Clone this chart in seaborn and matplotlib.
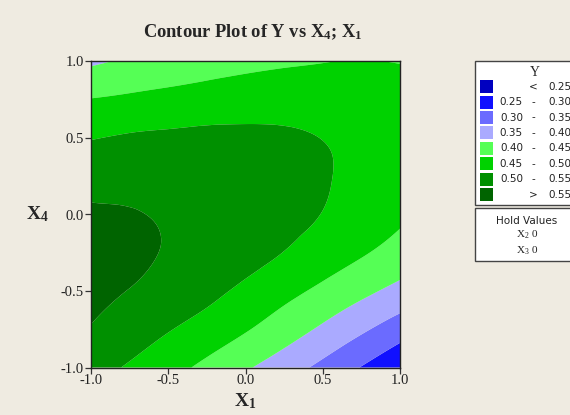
import numpy as np
import matplotlib
matplotlib.use("Agg")
import matplotlib.pyplot as plt
import matplotlib.tri as mtri
import seaborn as sns
from matplotlib.patches import Rectangle

# grid of the two plotted factors
x1_levels = [-1.0, -0.75, -0.5, -0.25, 0.0, 0.25, 0.5, 0.75, 1.0]
x4_levels = [-1.0, -0.75, -0.5, -0.25, 0.0, 0.25, 0.5, 0.75, 1.0]

# fitted Y, one list per X4 level (X1 from -1 to 1)
y_x4_m100 = [0.521, 0.494, 0.467, 0.438, 0.406, 0.373, 0.337, 0.298, 0.259]
y_x4_m075 = [0.548, 0.527, 0.503, 0.480, 0.454, 0.424, 0.392, 0.358, 0.323]
y_x4_m050 = [0.556, 0.549, 0.533, 0.513, 0.490, 0.465, 0.439, 0.412, 0.385]
y_x4_m025 = [0.559, 0.557, 0.547, 0.533, 0.517, 0.499, 0.478, 0.455, 0.430]
y_x4_000 = [0.556, 0.553, 0.546, 0.539, 0.527, 0.513, 0.499, 0.481, 0.458]
y_x4_p025 = [0.531, 0.533, 0.535, 0.533, 0.528, 0.520, 0.504, 0.489, 0.468]
y_x4_p050 = [0.498, 0.505, 0.509, 0.512, 0.512, 0.509, 0.499, 0.486, 0.470]
y_x4_p075 = [0.452, 0.459, 0.4655, 0.4715, 0.4755, 0.477, 0.4745, 0.469, 0.463]
y_x4_p100 = [0.392, 0.407, 0.419, 0.430, 0.439, 0.445, 0.449, 0.451, 0.449]

# contour bands and legend text
breaks = [0.25, 0.30, 0.35, 0.40, 0.45, 0.50, 0.55]
band_colors = ["#0000C0", "#1010FF", "#6B6BFF", "#AAAAFF",
               "#55FF55", "#00D200", "#009000", "#006400"]
band_left = ["", "0.25", "0.30", "0.35", "0.40", "0.45", "0.50", ""]
band_mid = ["<", "-", "-", "-", "-", "-", "-", ">"]
band_right = ["0.25", "0.30", "0.35", "0.40", "0.45", "0.50", "0.55", "0.55"]
hold_values = [("2", "0"), ("3", "0")]

bg = "#EFEBE1"
sns.set_style("white", {"axes.facecolor": bg, "figure.facecolor": bg,
                        "axes.edgecolor": "black"})
plt.rcParams["font.family"] = ["Liberation Serif", "DejaVu Serif"]
plt.rcParams["mathtext.fontset"] = "custom"
plt.rcParams["mathtext.rm"] = "Liberation Serif"
plt.rcParams["mathtext.bf"] = "Liberation Serif:bold"
plt.rcParams["mathtext.it"] = "Liberation Serif:italic"

Z = np.array([y_x4_m100, y_x4_m075, y_x4_m050, y_x4_m025, y_x4_000,
              y_x4_p025, y_x4_p050, y_x4_p075, y_x4_p100])
X, Y = np.meshgrid(x1_levels, x4_levels)

# smooth the bands with matplotlib's cubic triangulation refiner
tri = mtri.Triangulation(X.ravel(), Y.ravel())
refiner = mtri.UniformTriRefiner(tri)
interp = mtri.CubicTriInterpolator(tri, Z.ravel(), kind="min_E")
tri_fine, z_fine = refiner.refine_field(Z.ravel(), triinterpolator=interp,
                                        subdiv=4)

fig = plt.figure(figsize=(5.7, 4.15), dpi=100)
ax = fig.add_axes([91 / 570, 47.5 / 415, 309 / 570, 306 / 415])
levels = [0.0] + breaks + [1.0]
ax.tricontourf(tri_fine, z_fine, levels=levels, colors=band_colors,
               antialiased=True)
ax.set_xlim(-1, 1)
ax.set_ylim(-1, 1)
ticks = [-1.0, -0.5, 0.0, 0.5, 1.0]
ax.set_xticks(ticks)
ax.set_yticks(ticks)
ax.set_xticklabels([f"{t:.1f}" for t in ticks])
ax.set_yticklabels([f"{t:.1f}" for t in ticks])
ax.tick_params(direction="out", length=4, width=0.9, labelsize=10.5,
               color="#333333", labelcolor="#222222", pad=1,
               bottom=True, left=True)
for s in ax.spines.values():
    s.set_linewidth(1.0)
    s.set_color("#222222")

ax.set_xlabel(r"$\mathbf{X}_\mathbf{1}$", fontsize=14, labelpad=3)
ax.set_ylabel(r"$\mathbf{X}_\mathbf{4}$", fontsize=14, rotation=0,
              va="center", ha="center")
ax.yaxis.set_label_coords(-0.172, 0.5)
fig.text(253 / 570, 1 - 32 / 415,
         r"Contour Plot of Y vs X$_\mathbf{4}$; X$_\mathbf{1}$",
         ha="center", va="center", fontsize=13.3, fontweight="bold")

# legend boxes (the right side runs off the picture)
def fx(px):
    return px / 570

def fy(py):
    return 1 - py / 415

fig.patches.append(Rectangle((fx(475), fy(205)), fx(120), (205 - 61.5) / 415,
                             transform=fig.transFigure, facecolor="white",
                             edgecolor="#444444", linewidth=1.0))
fig.patches.append(Rectangle((fx(475), fy(261)), fx(120), (261 - 208) / 415,
                             transform=fig.transFigure, facecolor="white",
                             edgecolor="#444444", linewidth=1.0))
fig.text(fx(535), fy(73), "Y", ha="center", va="center", fontsize=10)
sans = "DejaVu Sans"
for i, col in enumerate(band_colors):
    cy = 86.7 + i * 15.43
    fig.patches.append(Rectangle((fx(480), fy(cy + 6.5)), fx(13), 13 / 415,
                                 transform=fig.transFigure, facecolor=col,
                                 edgecolor="none"))
    fig.text(fx(523), fy(cy), band_left[i], ha="right", va="center",
             fontsize=7.5, family=sans, color="#222222")
    fig.text(fx(533), fy(cy), band_mid[i], ha="center", va="center",
             fontsize=7.5, family=sans, color="#222222")
    fig.text(fx(548), fy(cy), band_right[i], ha="left", va="center",
             fontsize=7.5, family=sans, color="#222222")

fig.text(fx(527), fy(221), "Hold Values", ha="center", va="center",
         fontsize=7.5, family=sans, color="#222222")
for j, (sub, val) in enumerate(hold_values):
    fig.text(fx(527), fy(235 + j * 16), rf"X$_{sub}$ {val}", ha="center",
             va="center", fontsize=8, color="#222222")

fig.savefig("out.png", dpi=100, facecolor=bg)
